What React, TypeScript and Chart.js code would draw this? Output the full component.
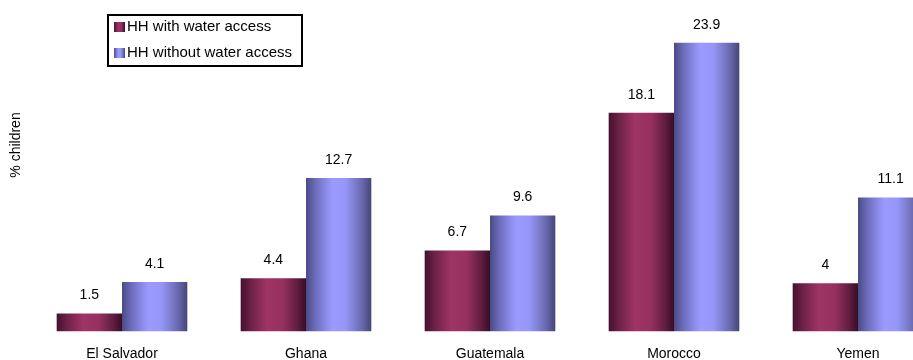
import React, { useEffect, useRef } from "react";
import { Chart, registerables } from "chart.js";

Chart.register(...registerables);

const categories = ["El Salvador", "Ghana", "Guatemala", "Morocco", "Yemen"];
const withAccess = [1.5, 4.4, 6.7, 18.1, 4];
const withoutAccess = [4.1, 12.7, 9.6, 23.9, 11.1];
const seriesLabels = ["HH with water access", "HH without water access"];
const yTitle = "% children";

const FONT = '"Liberation Sans", Arial, sans-serif';
const CAT_PCT = 0.71;

// colour stops for the cylinder-like shading of each series
const maroonStops: [number, string][] = [
  [0, "#45112f"],
  [0.15, "#6c2147"],
  [0.4, "#9e3464"],
  [0.65, "#96315f"],
  [0.88, "#5c1b3e"],
  [1, "#3a0d26"],
];
const blueStops: [number, string][] = [
  [0, "#4a4a84"],
  [0.15, "#6e6ebe"],
  [0.4, "#9a9aff"],
  [0.6, "#9797fa"],
  [0.85, "#6a6ab0"],
  [1, "#46467a"],
];

function shade(stops: [number, string][], fallback: string) {
  return (ctx: any) => {
    const chart = ctx.chart;
    const xs = chart.scales?.x;
    if (!chart.chartArea || !xs || ctx.dataIndex === undefined) return fallback;
    const cat = xs.width / categories.length;
    const bw = (cat * CAT_PCT) / 2;
    const cx = xs.getPixelForValue(ctx.dataIndex);
    const left = ctx.datasetIndex === 0 ? cx - bw : cx;
    const g = chart.ctx.createLinearGradient(left, 0, left + bw, 0);
    stops.forEach(([o, c]) => g.addColorStop(o, c));
    return g;
  };
}

const valueLabels = {
  id: "valueLabels",
  afterDatasetsDraw(chart: any) {
    const c = chart.ctx;
    c.save();
    c.font = `14px ${FONT}`;
    c.fillStyle = "#000";
    c.textAlign = "center";
    c.textBaseline = "middle";
    chart.data.datasets.forEach((ds: any, di: number) => {
      const meta = chart.getDatasetMeta(di);
      meta.data.forEach((el: any, i: number) => {
        c.fillText(String(ds.data[i]), el.x, el.y - 18);
      });
    });
    c.restore();
  },
};

const axisTitle = {
  id: "axisTitle",
  afterDraw(chart: any) {
    const c = chart.ctx;
    c.save();
    c.translate(16, 145);
    c.rotate(-Math.PI / 2);
    c.font = `14px ${FONT}`;
    c.fillStyle = "#000";
    c.textAlign = "center";
    c.textBaseline = "middle";
    c.fillText(yTitle, 0, 0);
    c.restore();
  },
};

const boxedLegend = {
  id: "boxedLegend",
  afterDraw(chart: any) {
    const c = chart.ctx;
    c.save();
    c.fillStyle = "#fff";
    c.fillRect(107, 14, 196, 53);
    c.lineWidth = 2;
    c.strokeStyle = "#000";
    c.strokeRect(108, 15, 194, 51);
    const swatches = [maroonStops, blueStops];
    const rows = [27, 53];
    c.font = `15px ${FONT}`;
    c.textBaseline = "middle";
    c.textAlign = "left";
    seriesLabels.forEach((label, i) => {
      const y = rows[i];
      const g = c.createLinearGradient(114, 0, 125, 0);
      swatches[i].forEach(([o, col]) => g.addColorStop(o, col));
      c.fillStyle = g;
      c.fillRect(114, y - 5, 11, 10);
      c.fillStyle = "#000";
      c.fillText(label, 127, y);
    });
    c.restore();
  },
};

export default function App() {
  const ref = useRef<HTMLCanvasElement>(null);

  useEffect(() => {
    if (!ref.current) return;
    const chart = new Chart(ref.current, {
      type: "bar",
      data: {
        labels: categories,
        datasets: [
          {
            label: seriesLabels[0],
            data: withAccess,
            backgroundColor: shade(maroonStops, "#93305e"),
            borderWidth: 0,
            categoryPercentage: CAT_PCT,
            barPercentage: 1,
          },
          {
            label: seriesLabels[1],
            data: withoutAccess,
            backgroundColor: shade(blueStops, "#9a9aff"),
            borderWidth: 0,
            categoryPercentage: CAT_PCT,
            barPercentage: 1,
          },
        ],
      },
      options: {
        responsive: false,
        animation: false,
        devicePixelRatio: 1,
        layout: { padding: { left: 30, right: 10, top: 29.5, bottom: 0 } },
        plugins: {
          legend: { display: false },
          tooltip: { enabled: false },
        },
        scales: {
          x: {
            grid: { display: false, drawTicks: false },
            border: { display: false },
            ticks: {
              padding: 14.5,
              color: "#000",
              font: { family: FONT, size: 14 },
            },
            afterFit(scale: any) {
              scale.height = 28.5;
            },
          },
          y: {
            display: false,
            min: 0,
            max: 25,
          },
        },
      },
      plugins: [valueLabels, axisTitle, boxedLegend],
    });
    return () => chart.destroy();
  }, []);

  return (
    <div
      style={{
        position: "fixed",
        left: 0,
        top: 0,
        width: 913,
        height: 360,
        overflow: "hidden",
        background: "#fff",
      }}
    >
      <canvas ref={ref} width={960} height={360} style={{ display: "block" }} />
    </div>
  );
}
